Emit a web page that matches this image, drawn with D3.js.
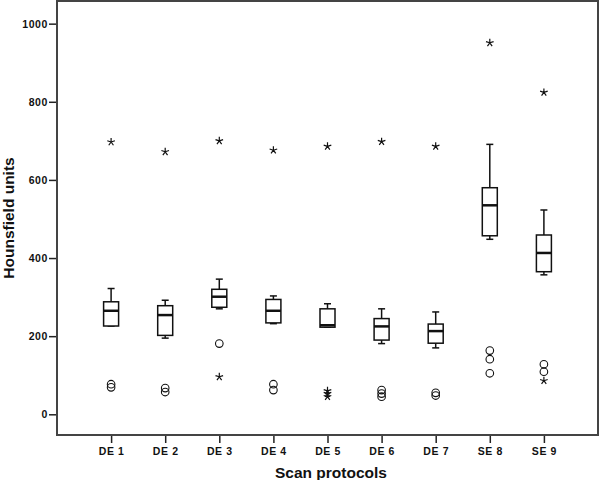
<!DOCTYPE html>
<html>
<head>
<meta charset="utf-8">
<script src="https://cdn.jsdelivr.net/npm/d3@7"></script>
<style>
  body { margin: 0; background: #fff; }
  svg { display: block; }
  .tick text { font-family: "Liberation Sans", Arial, sans-serif; font-weight: bold; font-size: 10.5px; fill: #111; letter-spacing: 0.6px; }
  .tick line { stroke: #222; stroke-width: 1.5; }
  .title { font-family: "Liberation Sans", Arial, sans-serif; font-weight: bold; font-size: 15.5px; fill: #111; }
</style>
</head>
<body>
<div id="chart"></div>
<script>
// protocols on the x axis
let categories = ["DE 1", "DE 2", "DE 3", "DE 4", "DE 5", "DE 6", "DE 7", "SE 8", "SE 9"];

// box plot summary per protocol (Hounsfield units)
let whiskerLow  = [226, 195, 270, 232, 223, 181, 170, 448, 357];
let q1          = [226, 202, 274, 234, 223, 190, 182, 457, 365];
let medians     = [265, 254, 301, 265, 228, 225, 213, 535, 413];
let q3          = [288, 278, 320, 294, 270, 245, 231, 580, 459];
let whiskerHigh = [322, 292, 346, 303, 283, 270, 262, 691, 523];

// outliers (circles) and extremes (stars)
let outliers = [[77, 69], [67, 57], [181], [77, 62], [], [62, 53, 45], [55, 48], [163, 141, 105], [128, 109]];
let extremes = [[697], [672], [700, 96], [676], [686, 60, 53, 45], [698], [686], [951], [824, 86]];

let yTicks = [0, 200, 400, 600, 800, 1000];

let width = 600, height = 480;
let margin = {top: 1, right: 2, bottom: 45, left: 57};

let svg = d3.select("#chart").append("svg")
    .attr("width", width)
    .attr("height", height);

let x = d3.scalePoint()
    .domain(categories)
    .range([margin.left, width - margin.right])
    .padding(1);

let y = d3.scaleLinear()
    .domain([-53, 1058])
    .range([height - margin.bottom, margin.top]);

// axes
let yAxis = svg.append("g")
    .attr("transform", `translate(${margin.left},0)`)
    .call(d3.axisLeft(y).tickValues(yTicks).tickFormat(d3.format("d")).tickSize(8).tickPadding(1));
yAxis.select(".domain").remove();

let xAxis = svg.append("g")
    .attr("transform", `translate(0,${height - margin.bottom})`)
    .call(d3.axisBottom(x).tickSize(8).tickPadding(5));
xAxis.select(".domain").remove();

// frame
svg.append("rect")
    .attr("x", margin.left)
    .attr("y", margin.top)
    .attr("width", width - margin.left - margin.right)
    .attr("height", height - margin.top - margin.bottom)
    .attr("fill", "none")
    .attr("stroke", "#444")
    .attr("stroke-width", 2);

let boxW = 15, capW = 7;
let stroke = "#111";

categories.forEach((c, i) => {
    let cx = x(c);
    let g = svg.append("g");

    // whiskers
    g.append("line")
        .attr("x1", cx).attr("x2", cx)
        .attr("y1", y(q3[i])).attr("y2", y(whiskerHigh[i]))
        .attr("stroke", stroke).attr("stroke-width", 1.5);
    g.append("line")
        .attr("x1", cx).attr("x2", cx)
        .attr("y1", y(q1[i])).attr("y2", y(whiskerLow[i]))
        .attr("stroke", stroke).attr("stroke-width", 1.5);
    [whiskerHigh[i], whiskerLow[i]].forEach(v => {
        g.append("line")
            .attr("x1", cx - capW / 2).attr("x2", cx + capW / 2)
            .attr("y1", y(v)).attr("y2", y(v))
            .attr("stroke", stroke).attr("stroke-width", 1.5);
    });

    // box
    g.append("rect")
        .attr("x", cx - boxW / 2)
        .attr("y", y(q3[i]))
        .attr("width", boxW)
        .attr("height", y(q1[i]) - y(q3[i]))
        .attr("fill", "#fff")
        .attr("stroke", stroke)
        .attr("stroke-width", 1.5);

    // median
    g.append("line")
        .attr("x1", cx - boxW / 2).attr("x2", cx + boxW / 2)
        .attr("y1", y(medians[i])).attr("y2", y(medians[i]))
        .attr("stroke", stroke).attr("stroke-width", 2.5);

    // outlier circles
    g.selectAll("circle")
        .data(outliers[i])
        .enter()
        .append("circle")
        .attr("cx", cx)
        .attr("cy", d => y(d))
        .attr("r", 3.8)
        .attr("fill", "none")
        .attr("stroke", stroke)
        .attr("stroke-width", 1.1);
});

// stars for extreme values, drawn as 5 arm asterisks
let star = {
    draw(context, size) {
        let r = Math.sqrt(size) / 2;
        for (let k = 0; k < 5; k++) {
            let a = -Math.PI / 2 + k * 2 * Math.PI / 5;
            context.moveTo(0, 0);
            context.lineTo(r * Math.cos(a), r * Math.sin(a));
        }
    }
};
let starPath = d3.symbol().type(star).size(64);

categories.forEach((c, i) => {
    svg.append("g").selectAll("path")
        .data(extremes[i])
        .enter()
        .append("path")
        .attr("d", starPath)
        .attr("transform", d => `translate(${x(c)},${y(d)})`)
        .attr("fill", "none")
        .attr("stroke", stroke)
        .attr("stroke-width", 1.2);
});

// axis titles
svg.append("text")
    .attr("class", "title")
    .attr("x", 331)
    .attr("y", 478)
    .attr("text-anchor", "middle")
    .text("Scan protocols");

svg.append("text")
    .attr("class", "title")
    .attr("transform", `translate(14,${(margin.top + height - margin.bottom) / 2}) rotate(-90)`)
    .attr("text-anchor", "middle")
    .text("Hounsfield units");
</script>
</body>
</html>
